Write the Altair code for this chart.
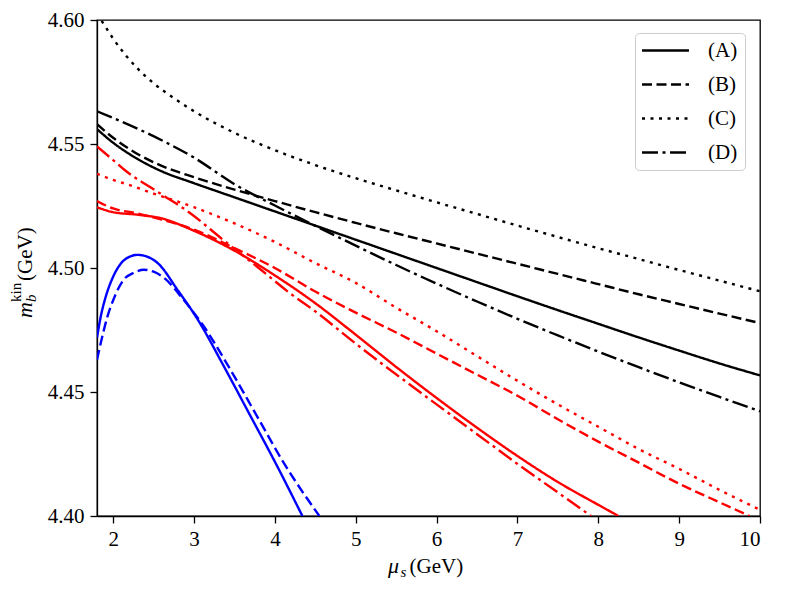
import altair as alt
import pandas as pd

FONT = "Liberation Serif"

# ---- data ----
series_names = ["(A)", "(B)", "(C)", "(D)"]
dash_patterns = [[1, 0], [10, 4.5], [3, 5.5], [16, 4.5, 3, 4.5]]
x_ticks = [2, 3, 4, 5, 6, 7, 8, 9, 10]
y_ticks = [4.40, 4.45, 4.50, 4.55, 4.60]

blackA_x = [1.8, 2.0, 2.3, 2.6, 3.0, 3.5, 4.0, 4.5, 5.0, 5.5, 6.0, 6.5, 7.0, 7.5, 8.0, 8.5, 9.0, 9.5, 10.0]
blackA_y = [4.556, 4.5505, 4.5440, 4.5390, 4.5342, 4.5285, 4.5228, 4.5171, 4.5114, 4.5057, 4.5000, 4.4943, 4.4886, 4.4830, 4.4775, 4.4720, 4.4667, 4.4615, 4.4567]

blackB_x = [1.8, 2.0, 2.3, 2.6, 3.0, 3.5, 4.0, 4.5, 5.0, 5.5, 6.0, 6.5, 7.0, 7.5, 8.0, 8.5, 9.0, 9.5, 10.0]
blackB_y = [4.558, 4.5525, 4.5460, 4.5412, 4.5366, 4.5316, 4.5270, 4.5225, 4.5182, 4.5140, 4.5099, 4.5058, 4.5017, 4.4976, 4.4935, 4.4894, 4.4855, 4.4816, 4.4778]

blackC_x = [1.8, 1.9, 2.0, 2.15, 2.3, 2.5, 2.75, 3.0, 3.5, 4.0, 4.5, 5.0, 5.5, 6.0, 6.5, 7.0, 7.5, 8.0, 8.5, 9.0, 9.5, 10.0]
blackC_y = [4.6025, 4.5975, 4.5925, 4.5860, 4.5805, 4.5745, 4.5685, 4.5632, 4.5545, 4.5475, 4.5415, 4.5362, 4.5313, 4.5265, 4.5218, 4.5171, 4.5125, 4.5080, 4.5036, 4.4992, 4.4949, 4.4906]

blackD_x = [1.8, 2.0, 2.3, 2.6, 3.0, 3.5, 4.0, 4.5, 5.0, 5.5, 6.0, 6.5, 7.0, 7.5, 8.0, 8.5, 9.0, 9.5, 10.0]
blackD_y = [4.5632, 4.5605, 4.5562, 4.5515, 4.5445, 4.5338, 4.5252, 4.5170, 4.5090, 4.5012, 4.4937, 4.4865, 4.4795, 4.4728, 4.4663, 4.4600, 4.4539, 4.4480, 4.4422]

redA_x = [1.8, 2.0, 2.3, 2.6, 3.0, 3.5, 4.0, 4.5, 5.0, 5.5, 6.0, 6.5, 7.0, 7.5, 8.0, 8.25]
redA_y = [4.5245, 4.5225, 4.5215, 4.5200, 4.5150, 4.5070, 4.4970, 4.4858, 4.4731, 4.4601, 4.4476, 4.4356, 4.4242, 4.4137, 4.4045, 4.4000]

redB_x = [1.8, 2.0, 2.3, 2.6, 3.0, 3.5, 4.0, 4.5, 5.0, 5.5, 6.0, 6.5, 7.0, 7.5, 8.0, 8.5, 9.0, 9.5, 9.87]
redB_y = [4.527, 4.524, 4.522, 4.5195, 4.5155, 4.508, 4.500, 4.4905, 4.482, 4.474, 4.4655, 4.457, 4.4485, 4.439, 4.430, 4.4215, 4.413, 4.4055, 4.400]

redC_x = [1.8, 2.0, 2.15, 2.5, 3.0, 3.5, 4.0, 4.5, 5.0, 5.5, 6.0, 6.5, 7.0, 7.5, 8.0, 8.5, 9.0, 9.5, 10.0]
redC_y = [4.538, 4.5355, 4.534, 4.530, 4.5245, 4.518, 4.5105, 4.502, 4.494, 4.484, 4.4745, 4.4645, 4.4545, 4.445, 4.436, 4.427, 4.419, 4.4105, 4.4025]

redD_x = [1.8, 2.0, 2.15, 2.55, 2.95, 3.35, 3.8, 4.2, 4.5, 5.0, 5.3, 6.0, 6.5, 7.0, 7.5, 7.91]
redD_y = [4.549, 4.5435, 4.5393, 4.5307, 4.5222, 4.5116, 4.500, 4.4895, 4.4825, 4.4695, 4.462, 4.445, 4.433, 4.421, 4.4095, 4.400]

blueA_x = [1.8, 1.85, 1.9, 2.0, 2.1, 2.2, 2.3, 2.4, 2.55, 2.8, 3.05, 3.37, 3.7, 4.03, 4.34]
blueA_y = [4.472, 4.481, 4.4875, 4.4965, 4.502, 4.5045, 4.5053, 4.5048, 4.502, 4.491, 4.479, 4.4603, 4.4402, 4.420, 4.400]

blueB_x = [1.8, 1.87, 1.93, 2.0, 2.13, 2.25, 2.38, 2.5, 2.63, 2.87, 3.12, 3.45, 3.78, 4.11, 4.55]
blueB_y = [4.463, 4.473, 4.4805, 4.487, 4.4953, 4.498, 4.4993, 4.4985, 4.496, 4.4872, 4.4765, 4.459, 4.4402, 4.4214, 4.400]

curves = [
    ("#000000", "(A)", blackA_x, blackA_y),
    ("#000000", "(B)", blackB_x, blackB_y),
    ("#000000", "(C)", blackC_x, blackC_y),
    ("#000000", "(D)", blackD_x, blackD_y),
    ("#ff0000", "(A)", redA_x, redA_y),
    ("#ff0000", "(B)", redB_x, redB_y),
    ("#ff0000", "(C)", redC_x, redC_y),
    ("#ff0000", "(D)", redD_x, redD_y),
    ("#0000ff", "(A)", blueA_x, blueA_y),
    ("#0000ff", "(B)", blueB_x, blueB_y),
]

rows = []
for color, style, xs, ys in curves:
    for i, (xv, yv) in enumerate(zip(xs, ys)):
        rows.append({"mu": xv, "m": yv, "style": style, "color": color,
                     "curve": color + style, "i": i})
df = pd.DataFrame(rows)

lines = alt.Chart(df).mark_line(clip=True, strokeWidth=2.4, interpolate="monotone").encode(
    x=alt.X("mu:Q",
            scale=alt.Scale(domain=[1.8, 10], nice=False, zero=False),
            axis=alt.Axis(values=x_ticks, format="d", title=None, labelPadding=5,
                          labelFont=FONT, labelFontSize=21, labelColor="black")),
    y=alt.Y("m:Q",
            scale=alt.Scale(domain=[4.40, 4.60], nice=False, zero=False),
            axis=alt.Axis(values=y_ticks, format=".2f", title=None, labelPadding=6,
                          labelFont=FONT, labelFontSize=21, labelColor="black")),
    color=alt.Color("color:N", scale=None),
    strokeDash=alt.StrokeDash(
        "style:N",
        scale=alt.Scale(domain=series_names, range=dash_patterns),
        legend=alt.Legend(
            title=None, orient="none", legendX=538, legendY=13,
            symbolType="M-4,0L4,0", symbolSize=138, symbolStrokeWidth=2.4,
            symbolOffset=13, symbolStrokeColor="black",
            labelFont=FONT, labelFontSize=21, labelExpr="datum.label + '\u2002'",
            labelColor="black", labelOffset=32, rowPadding=12, padding=7,
            strokeColor="#cccccc", fillColor="white", cornerRadius=4,
        ),
    ),
    detail="curve:N",
    order="i:Q",
)


def txt(s, x, y, size, italic=False, angle=0):
    return alt.Chart(alt.Data(values=[{"k": 1}])).mark_text(
        text=s, font=FONT, fontSize=size,
        fontStyle="italic" if italic else "normal",
        align="left", baseline="alphabetic", angle=angle, color="black",
    ).encode(x=alt.value(x), y=alt.value(y))


texts = [
    # x-axis title  mu_s(GeV)
    txt("μ", 291, 553, 22, italic=True),
    txt("s", 303.5, 557, 15, italic=True),
    txt("(GeV)", 312.5, 553, 21),
    # y-axis title  m_b^kin(GeV)
    txt("m", -65, 298, 22, italic=True, angle=270),
    txt("b", -61, 282, 15, italic=True, angle=270),
    txt("kin", -76, 282, 15, angle=270),
    txt("(GeV)", -65, 261, 21, angle=270),
]

chart = alt.layer(lines, *texts).properties(
    width=663, height=496,
    autosize=alt.AutoSizeParams(type="none"),
    padding={"left": 89, "top": 12, "right": 16, "bottom": 66},
).configure_view(
    stroke="black", strokeWidth=1.3
).configure_axis(
    grid=False, domainColor="black", domainWidth=1.3,
    tickColor="black", tickWidth=1.3, tickSize=7,
    labelFont=FONT, labelFontSize=21, labelColor="black",
)

chart.save("out.html", embed_options={"renderer": "svg", "actions": False})
